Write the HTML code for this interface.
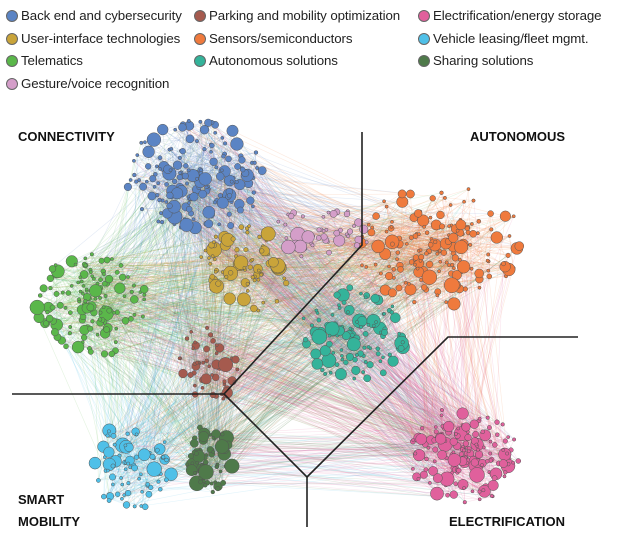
<!DOCTYPE html>
<html><head><meta charset="utf-8"><style>
body{margin:0;background:#fff;width:624px;height:536px;overflow:hidden;font-family:"Liberation Sans",Arial,sans-serif}
#w{position:relative;width:624px;height:536px}
.lg{position:absolute;font-size:13.3px;color:#222;white-space:nowrap;line-height:16px;letter-spacing:-0.1px}
.lg i{display:inline-block;width:12px;height:12px;border-radius:50%;border:1px solid #666;vertical-align:-2px;margin-right:3px;box-sizing:border-box}
.t{position:absolute;font-weight:bold;font-size:13px;color:#111;line-height:22px}
svg{position:absolute;left:0;top:0}
</style></head><body><div id="w">
<svg id="s" width="624" height="536"></svg>
<div class="lg" style="left:6px;top:8px"><i style="background:#5b84c4"></i>Back end and cybersecurity</div>
<div class="lg" style="left:194px;top:8px"><i style="background:#a55a4e"></i>Parking and mobility optimization</div>
<div class="lg" style="left:418px;top:8px"><i style="background:#e0609c"></i>Electrification/energy storage</div>
<div class="lg" style="left:6px;top:31px"><i style="background:#c9a43a"></i>User-interface technologies</div>
<div class="lg" style="left:194px;top:31px"><i style="background:#ef7a3d"></i>Sensors/semiconductors</div>
<div class="lg" style="left:418px;top:31px"><i style="background:#4fc0e8"></i>Vehicle leasing/fleet mgmt.</div>
<div class="lg" style="left:6px;top:53px"><i style="background:#5ab74a"></i>Telematics</div>
<div class="lg" style="left:194px;top:53px"><i style="background:#34b39a"></i>Autonomous solutions</div>
<div class="lg" style="left:418px;top:53px"><i style="background:#4f7a4a"></i>Sharing solutions</div>
<div class="lg" style="left:6px;top:76px"><i style="background:#d49ec9"></i>Gesture/voice recognition</div>
<div class="t" style="left:18px;top:126px">CONNECTIVITY</div>
<div class="t" style="left:470px;top:126px">AUTONOMOUS</div>
<div class="t" style="left:18px;top:489px">SMART<br>MOBILITY</div>
<div class="t" style="left:449px;top:511px">ELECTRIFICATION</div>
</div>
<script>
var seed=11;function r(){seed=(seed*16807)%2147483647;return seed/2147483647}
var C=[
["#5b84c4",195,178,68,58,170],
["#5ab74a",92,305,55,55,130],
["#ef7a3d",440,245,85,60,170],
["#34b39a",352,335,55,48,110],
["#c9a43a",245,268,48,45,80],
["#d49ec9",322,232,50,28,45],
["#a55a4e",208,365,32,40,50],
["#4f7a4a",208,460,26,35,80],
["#4fc0e8",132,465,40,45,80],
["#e0609c",465,455,55,50,150]];
var N=[],K=[];
C.forEach(function(c,k){K[k]=[];for(var i=0;i<c[5];i++){var t=r()*6.283,d=Math.pow(r(),0.7);var n={k:k,c:c[0],x:c[1]+Math.cos(t)*d*c[3],y:c[2]+Math.sin(t)*d*c[4],r:1.6+Math.pow(r(),3.5)*6};N.push(n);K[k].push(n)}});
var s='';
for(var i=0;i<N.length;i++){var a=N[i];for(var j=0;j<4;j++){var b;if(r()<0.4){var L=K[a.k];b=L[Math.floor(r()*L.length)]}else b=N[Math.floor(r()*N.length)];s+='<line x1="'+a.x.toFixed(1)+'" y1="'+a.y.toFixed(1)+'" x2="'+b.x.toFixed(1)+'" y2="'+b.y.toFixed(1)+'" stroke="'+a.c+'" stroke-opacity="0.17" stroke-width="0.6"/>'}}
N.forEach(function(a){s+='<circle cx="'+a.x.toFixed(1)+'" cy="'+a.y.toFixed(1)+'" r="'+a.r.toFixed(1)+'" fill="'+a.c+'" stroke="#555" stroke-width="0.5"/>'});
s+='<g stroke="#222" stroke-width="1.6" fill="none"><polyline points="362,132 362,245 224,394 12,394"/><polyline points="224,394 307,477 307,527"/><polyline points="307,477 448,337 578,337"/></g>';
document.getElementById('s').innerHTML=s;
</script>
</body></html>
